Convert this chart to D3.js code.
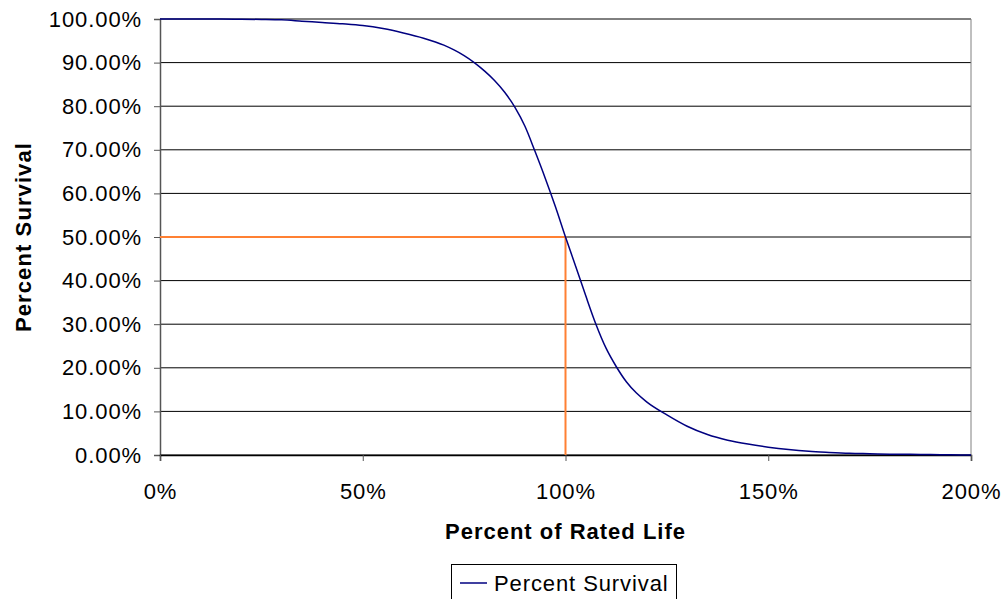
<!DOCTYPE html>
<html>
<head>
<meta charset="utf-8">
<script src="https://cdn.jsdelivr.net/npm/d3@7"></script>
<style>
  html, body { margin: 0; padding: 0; background: #fff; }
  svg { display: block; font-family: "Liberation Sans", Arial, sans-serif; }
</style>
</head>
<body>
<svg id="chart" width="1008" height="599"></svg>
<script>
// Percent of rated life (x) and surviving fraction in percent (y)
const ratedLife = [0, 5, 10, 15, 20, 25, 30, 35, 40, 45, 50, 55, 60, 65, 70, 72.5, 75, 77.5, 80, 82.5, 85, 87.5, 90, 92.5, 95, 97.5,
                   100, 102.5, 105, 107.5, 110, 112.5, 115, 117.5, 120, 125, 130, 135, 140, 145, 150, 155, 160, 165, 170, 175, 180, 185, 190, 195, 200];
const survival = [100, 100, 100, 100, 99.95, 99.9, 99.8, 99.5, 99.2, 98.9, 98.5, 97.8, 96.8, 95.6, 94.0, 92.9, 91.6, 90.0, 88.1, 85.9, 83.2, 79.8, 75.4, 69.6, 63.5, 57.0,
                  50.0, 43.3, 36.5, 30.0, 24.5, 20.3, 16.8, 14.2, 12.2, 9.2, 6.6, 4.7, 3.4, 2.5, 1.8, 1.25, 0.85, 0.6, 0.4, 0.3, 0.2, 0.15, 0.1, 0.05, 0.0];
// Median-life reference point
const medianLife = [100];
const medianSurvival = [50];

const xTicks = [0, 50, 100, 150, 200];
const yTicks = [0, 10, 20, 30, 40, 50, 60, 70, 80, 90, 100];

const xTitle = "Percent of Rated Life";
const yTitle = "Percent Survival";
const seriesName = "Percent Survival";

const svg = d3.select("#chart");
const plotL = 160, plotR = 971, plotT = 19, plotB = 455;
const fontSize = 22;

const x = d3.scaleLinear().domain([0, 200]).range([plotL, plotR]);
const y = d3.scaleLinear().domain([0, 100]).range([plotB, plotT]);

// Horizontal gridlines
svg.append("g").selectAll("line").data(yTicks).join("line")
  .attr("x1", plotL).attr("x2", plotR)
  .attr("y1", d => y(d)).attr("y2", d => y(d))
  .attr("stroke", "#000").attr("stroke-width", 1);

// Right frame edge
svg.append("line")
  .attr("x1", plotR).attr("x2", plotR).attr("y1", plotT).attr("y2", plotB)
  .attr("stroke", "#808080").attr("stroke-width", 1);

// Y axis
const yAxis = svg.append("g")
  .attr("transform", `translate(${plotL},0)`)
  .call(d3.axisLeft(y).tickValues(yTicks).tickSize(6).tickPadding(12)
    .tickFormat(d => d.toFixed(2) + "%"));
yAxis.select(".domain").attr("stroke", "#555").attr("stroke-width", 1.5);
yAxis.selectAll(".tick line").attr("stroke", "#555");
yAxis.selectAll("text").attr("font-size", fontSize).attr("fill", "#000")
  .attr("letter-spacing", "0.9px")
  .attr("font-family", "Liberation Sans, Arial, sans-serif");

// X axis
const xAxis = svg.append("g")
  .attr("transform", `translate(0,${plotB})`)
  .call(d3.axisBottom(x).tickValues(xTicks).tickSize(6).tickPadding(22)
    .tickFormat(d => d + "%"));
xAxis.select(".domain").attr("stroke", "#000").attr("stroke-width", 1.5);
xAxis.selectAll(".tick line").attr("stroke", "#555");
xAxis.selectAll("text").attr("font-size", fontSize).attr("fill", "#000")
  .attr("letter-spacing", "0.9px")
  .attr("font-family", "Liberation Sans, Arial, sans-serif");

// Median reference lines
svg.append("g").selectAll("path").data(medianLife).join("path")
  .attr("d", (d, i) => `M${x(0)},${y(medianSurvival[i])}H${x(d)}V${y(0)}`)
  .attr("fill", "none").attr("stroke", "#ff8033").attr("stroke-width", 2);

// Survival curve
const line = d3.line().x((d, i) => x(ratedLife[i])).y(d => y(d)).curve(d3.curveMonotoneX);
svg.append("path").datum(survival)
  .attr("d", line)
  .attr("fill", "none").attr("stroke", "#000080").attr("stroke-width", 1.5);

// Axis titles
svg.append("text")
  .attr("x", (plotL + plotR) / 2).attr("y", 539)
  .attr("text-anchor", "middle").attr("font-size", fontSize).attr("font-weight", "bold")
  .attr("letter-spacing", "1px")
  .text(xTitle);

svg.append("text")
  .attr("transform", `translate(31,${(plotT + plotB) / 2}) rotate(-90)`)
  .attr("text-anchor", "middle").attr("font-size", fontSize).attr("font-weight", "bold")
  .attr("letter-spacing", "1.1px")
  .text(yTitle);

// Legend
const lg = svg.append("g");
lg.append("rect").attr("x", 451.5).attr("y", 564.5).attr("width", 225).attr("height", 40)
  .attr("fill", "#fff").attr("stroke", "#000").attr("stroke-width", 1);
lg.append("line").attr("x1", 460).attr("x2", 487).attr("y1", 583).attr("y2", 583)
  .attr("stroke", "#000080").attr("stroke-width", 1.5);
lg.append("text").attr("x", 494).attr("y", 591).attr("font-size", fontSize)
  .attr("letter-spacing", "0.9px").text(seriesName);
</script>
</body>
</html>
